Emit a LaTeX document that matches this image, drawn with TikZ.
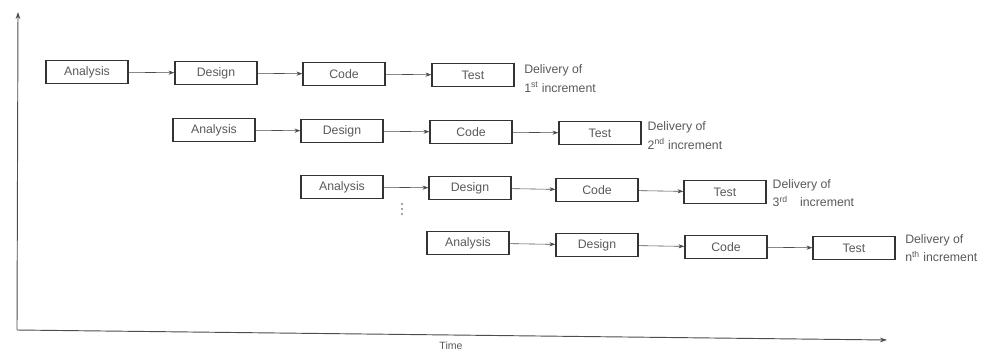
\documentclass[tikz,border=0pt]{standalone}
\usepackage{fontspec}
\setmainfont{Liberation Sans}
\usetikzlibrary{arrows.meta}
\begin{document}
\begin{tikzpicture}[x=0.03cm,y=-0.03cm,
  phase/.style={draw=black!80,line width=1.1pt,minimum width=2.46cm,minimum height=0.7cm,
    inner sep=0pt,text=black!65,font=\fontsize{10.5}{12}\selectfont},
  flow/.style={draw=black!70,line width=0.5pt,-{Stealth[length=5pt,width=3.5pt]}},
  axis/.style={draw=black!70,line width=0.8pt,-{Stealth[length=6pt,width=4pt]}},
  note/.style={anchor=west,align=left,text=black!65,inner sep=0pt,
    font=\fontsize{10.5}{16}\selectfont},
  dot/.style={fill=black!70}]
\useasboundingbox (0,0) rectangle (1002,351);

% time axes
\coordinate (o) at (17,330);
\coordinate (ytop) at (18,12);
\coordinate (xend) at (887,340);
\draw[axis] (o) -- (ytop);
\draw[axis] (o) -- (xend);
\node[text=black!65,font=\fontsize{9}{10}\selectfont] (time) at (451,346) {Time};

% increment 1
\node[phase] (a1) at (87,72) {Analysis};
\node[phase] (d1) at (216,73) {Design};
\node[phase] (c1) at (344,74) {Code};
\node[phase] (t1) at (473,75) {Test};
% increment 2
\node[phase] (a2) at (214,130) {Analysis};
\node[phase] (d2) at (342,131) {Design};
\node[phase] (c2) at (471,132) {Code};
\node[phase] (t2) at (600,133) {Test};
% increment 3
\node[phase] (a3) at (342,187) {Analysis};
\node[phase] (d3) at (470,188) {Design};
\node[phase] (c3) at (597,190) {Code};
\node[phase] (t3) at (725,192) {Test};
% increment n
\node[phase] (a4) at (468,243) {Analysis};
\node[phase] (d4) at (597,245) {Design};
\node[phase] (c4) at (726,247) {Code};
\node[phase] (t4) at (854,248) {Test};

\foreach \r in {1,2,3,4}{
  \draw[flow] (a\r) -- (d\r);
  \draw[flow] (d\r) -- (c\r);
  \draw[flow] (c\r) -- (t\r);
}

% delivery notes
\node[note] (n1) at ([xshift=8pt,yshift=-3pt]t1.east) {Delivery of\\1\textsuperscript{st} increment};
\node[note] (n2) at ([xshift=5pt,yshift=-2pt]t2.east) {Delivery of\\2\textsuperscript{nd} increment};
\node[note] (n3) at ([xshift=5pt,yshift=-1pt]t3.east) {Delivery of\\3\textsuperscript{rd}\quad increment};
\node[note] (n4) at ([xshift=8pt,yshift=0pt]t4.east) {Delivery of\\n\textsuperscript{th} increment};

% continuation dots between the third and the last increment
\coordinate (dots) at (402,209);
\foreach \dy in {-5,0,5}
  \fill[dot] ([yshift=-\dy*0.03cm]dots) ellipse (0.7pt and 0.9pt);
\end{tikzpicture}
\end{document}
